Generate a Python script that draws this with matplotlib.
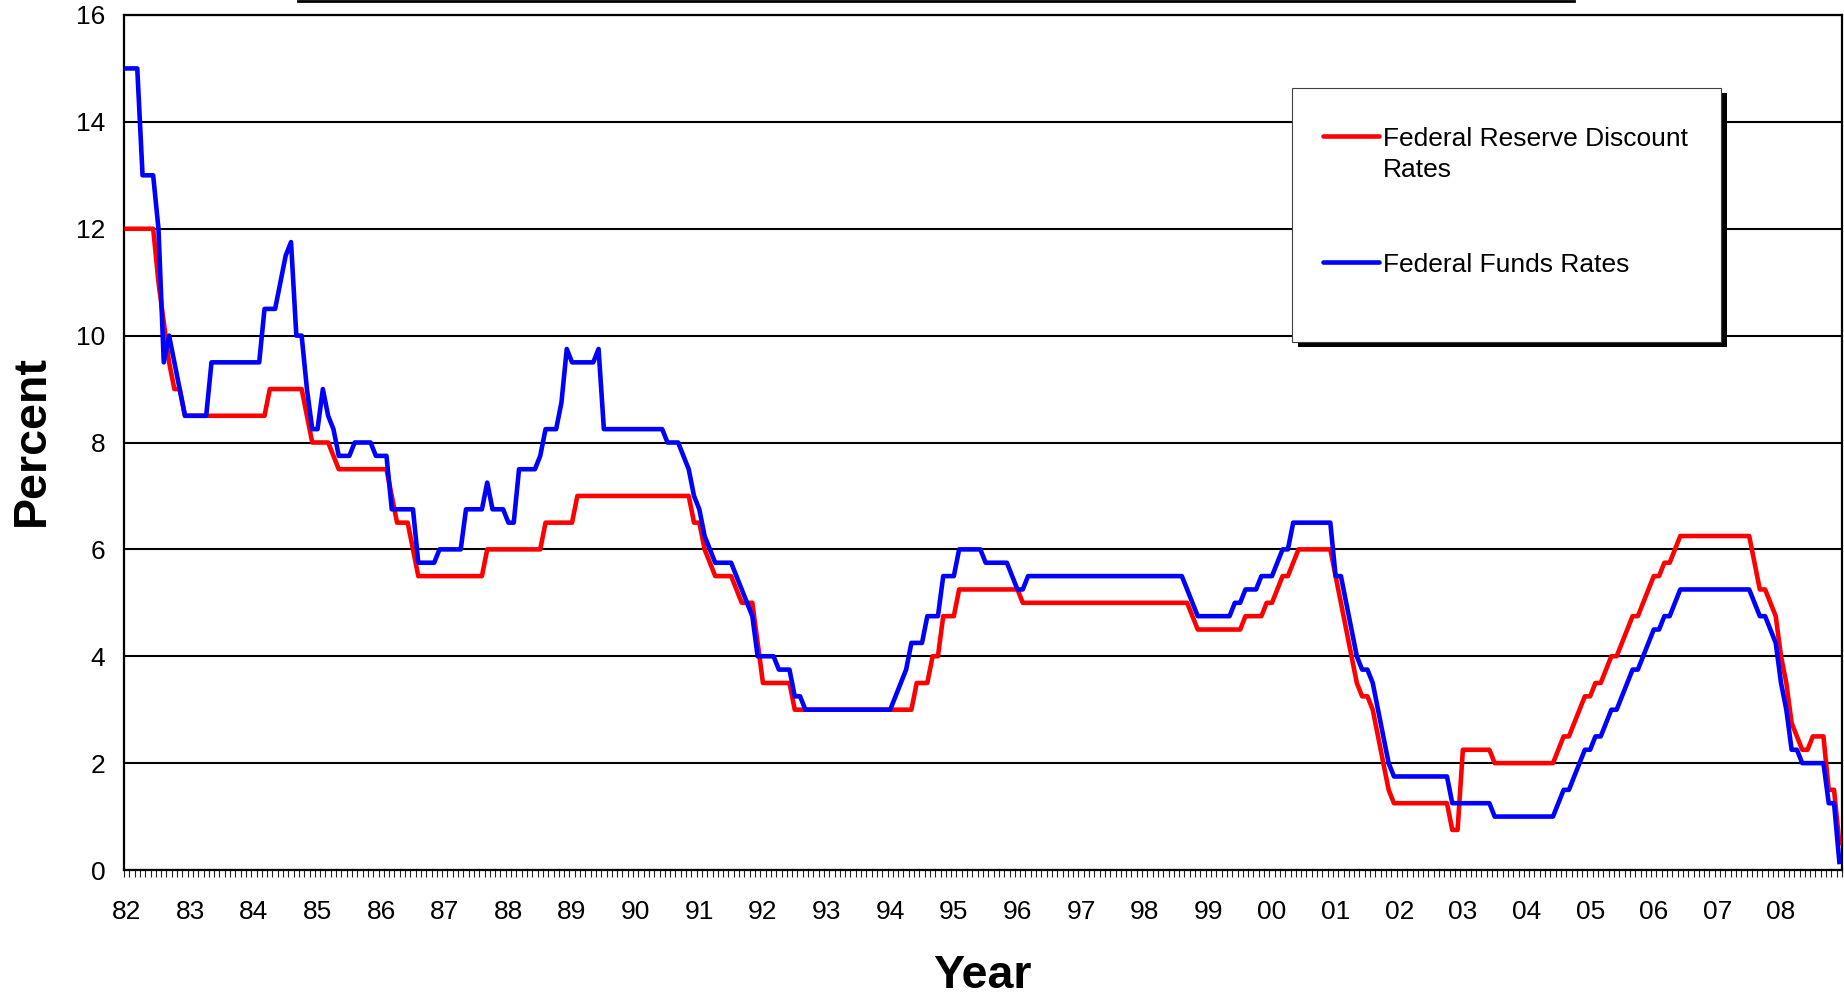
"""Federal Reserve discount rate vs. federal funds rate, monthly 1982-2008 -> out.png"""
import matplotlib
matplotlib.use("Agg")  # no display, write straight to file
import matplotlib.pyplot as plt
from matplotlib.lines import Line2D
from matplotlib.patches import Rectangle
import numpy as np

W, H = 1844, 999

YEAR_LABELS = ["82", "83", "84", "85", "86", "87", "88", "89", "90", "91",
               "92", "93", "94", "95", "96", "97", "98", "99", "00", "01",
               "02", "03", "04", "05", "06", "07", "08"]

# monthly values (Jan..Dec), one row per year 1982..2008
DISCOUNT = [
    12, 12, 12, 12, 12, 12, 11, 10.25, 9.5, 9, 9, 8.5,
    8.5, 8.5, 8.5, 8.5, 8.5, 8.5, 8.5, 8.5, 8.5, 8.5, 8.5, 8.5,
    8.5, 8.5, 8.5, 9, 9, 9, 9, 9, 9, 9, 8.5, 8,
    8, 8, 8, 7.75, 7.5, 7.5, 7.5, 7.5, 7.5, 7.5, 7.5, 7.5,
    7.5, 7.5, 7, 6.5, 6.5, 6.5, 6, 5.5, 5.5, 5.5, 5.5, 5.5,
    5.5, 5.5, 5.5, 5.5, 5.5, 5.5, 5.5, 5.5, 6, 6, 6, 6,
    6, 6, 6, 6, 6, 6, 6, 6.5, 6.5, 6.5, 6.5, 6.5,
    6.5, 7, 7, 7, 7, 7, 7, 7, 7, 7, 7, 7,
    7, 7, 7, 7, 7, 7, 7, 7, 7, 7, 7, 6.5,
    6.5, 6, 5.75, 5.5, 5.5, 5.5, 5.5, 5.25, 5, 5, 5, 4.25,
    3.5, 3.5, 3.5, 3.5, 3.5, 3.5, 3, 3, 3, 3, 3, 3,
    3, 3, 3, 3, 3, 3, 3, 3, 3, 3, 3, 3,
    3, 3, 3, 3, 3, 3.5, 3.5, 3.5, 4, 4, 4.75, 4.75,
    4.75, 5.25, 5.25, 5.25, 5.25, 5.25, 5.25, 5.25, 5.25, 5.25, 5.25, 5.25,
    5.25, 5, 5, 5, 5, 5, 5, 5, 5, 5, 5, 5,
    5, 5, 5, 5, 5, 5, 5, 5, 5, 5, 5, 5,
    5, 5, 5, 5, 5, 5, 5, 5, 5, 4.75, 4.5, 4.5,
    4.5, 4.5, 4.5, 4.5, 4.5, 4.5, 4.5, 4.75, 4.75, 4.75, 4.75, 5,
    5, 5.25, 5.5, 5.5, 5.75, 6, 6, 6, 6, 6, 6, 6,
    5.5, 5, 4.5, 4, 3.5, 3.25, 3.25, 3, 2.5, 2, 1.5, 1.25,
    1.25, 1.25, 1.25, 1.25, 1.25, 1.25, 1.25, 1.25, 1.25, 1.25, 0.75, 0.75,
    2.25, 2.25, 2.25, 2.25, 2.25, 2.25, 2, 2, 2, 2, 2, 2,
    2, 2, 2, 2, 2, 2, 2.25, 2.5, 2.5, 2.75, 3, 3.25,
    3.25, 3.5, 3.5, 3.75, 4, 4, 4.25, 4.5, 4.75, 4.75, 5, 5.25,
    5.5, 5.5, 5.75, 5.75, 6, 6.25, 6.25, 6.25, 6.25, 6.25, 6.25, 6.25,
    6.25, 6.25, 6.25, 6.25, 6.25, 6.25, 6.25, 5.75, 5.25, 5.25, 5, 4.75,
    4, 3.5, 2.75, 2.5, 2.25, 2.25, 2.5, 2.5, 2.5, 1.5, 1.5, 0.5,
]

FUNDS = [
    15, 15, 15, 13, 13, 13, 12, 9.5, 10, 9.5, 9, 8.5,
    8.5, 8.5, 8.5, 8.5, 9.5, 9.5, 9.5, 9.5, 9.5, 9.5, 9.5, 9.5,
    9.5, 9.5, 10.5, 10.5, 10.5, 11, 11.5, 11.75, 10, 10, 9, 8.25,
    8.25, 9, 8.5, 8.25, 7.75, 7.75, 7.75, 8, 8, 8, 8, 7.75,
    7.75, 7.75, 6.75, 6.75, 6.75, 6.75, 6.75, 5.75, 5.75, 5.75, 5.75, 6,
    6, 6, 6, 6, 6.75, 6.75, 6.75, 6.75, 7.25, 6.75, 6.75, 6.75,
    6.5, 6.5, 7.5, 7.5, 7.5, 7.5, 7.75, 8.25, 8.25, 8.25, 8.75, 9.75,
    9.5, 9.5, 9.5, 9.5, 9.5, 9.75, 8.25, 8.25, 8.25, 8.25, 8.25, 8.25,
    8.25, 8.25, 8.25, 8.25, 8.25, 8.25, 8, 8, 8, 7.75, 7.5, 7,
    6.75, 6.25, 6, 5.75, 5.75, 5.75, 5.75, 5.5, 5.25, 5, 4.75, 4,
    4, 4, 4, 3.75, 3.75, 3.75, 3.25, 3.25, 3, 3, 3, 3,
    3, 3, 3, 3, 3, 3, 3, 3, 3, 3, 3, 3,
    3, 3.25, 3.5, 3.75, 4.25, 4.25, 4.25, 4.75, 4.75, 4.75, 5.5, 5.5,
    5.5, 6, 6, 6, 6, 6, 5.75, 5.75, 5.75, 5.75, 5.75, 5.5,
    5.25, 5.25, 5.5, 5.5, 5.5, 5.5, 5.5, 5.5, 5.5, 5.5, 5.5, 5.5,
    5.5, 5.5, 5.5, 5.5, 5.5, 5.5, 5.5, 5.5, 5.5, 5.5, 5.5, 5.5,
    5.5, 5.5, 5.5, 5.5, 5.5, 5.5, 5.5, 5.5, 5.25, 5, 4.75, 4.75,
    4.75, 4.75, 4.75, 4.75, 4.75, 5, 5, 5.25, 5.25, 5.25, 5.5, 5.5,
    5.5, 5.75, 6, 6, 6.5, 6.5, 6.5, 6.5, 6.5, 6.5, 6.5, 6.5,
    5.5, 5.5, 5, 4.5, 4, 3.75, 3.75, 3.5, 3, 2.5, 2, 1.75,
    1.75, 1.75, 1.75, 1.75, 1.75, 1.75, 1.75, 1.75, 1.75, 1.75, 1.25, 1.25,
    1.25, 1.25, 1.25, 1.25, 1.25, 1.25, 1, 1, 1, 1, 1, 1,
    1, 1, 1, 1, 1, 1, 1.25, 1.5, 1.5, 1.75, 2, 2.25,
    2.25, 2.5, 2.5, 2.75, 3, 3, 3.25, 3.5, 3.75, 3.75, 4, 4.25,
    4.5, 4.5, 4.75, 4.75, 5, 5.25, 5.25, 5.25, 5.25, 5.25, 5.25, 5.25,
    5.25, 5.25, 5.25, 5.25, 5.25, 5.25, 5.25, 5, 4.75, 4.75, 4.5, 4.25,
    3.5, 3, 2.25, 2.25, 2, 2, 2, 2, 2, 1.25, 1.25, 0.15,
]

RED = "#FF0000"
BLUE = "#0000FF"
FS = 19  # tick / legend text size
LW = 3.3  # series line width

plt.rcParams["font.family"] = ["Liberation Sans", "DejaVu Sans"]

fig = plt.figure(figsize=(W / 100, H / 100), dpi=100)
ax = fig.add_axes([124 / W, 1 - 870 / H, (1842 - 124) / W, (870 - 15) / H])

# one category per month, points sit in the middle of each category
n = len(DISCOUNT)
months = np.arange(n) + 0.5
ax.plot(months, DISCOUNT, color=RED, lw=LW, zorder=3)
ax.plot(months, FUNDS, color=BLUE, lw=LW, zorder=4)

ax.set_xlim(0, n)
ax.set_ylim(0, 16)
ax.set_yticks(range(0, 17, 2))
ax.yaxis.grid(True, color="black", lw=1.5)
ax.set_axisbelow(True)
ax.tick_params(axis="y", length=0, pad=13.5, labelsize=FS)

ax.set_xticks(np.arange(len(YEAR_LABELS)) * 12 + 0.5)
ax.set_xticklabels(YEAR_LABELS)
ax.set_xticks(np.arange(n + 1), minor=True)
ax.tick_params(axis="x", which="major", length=0, pad=21.5, labelsize=FS)
ax.tick_params(axis="x", which="minor", length=5, width=0.8,
               direction="out", color="#222222")
for s in ax.spines.values():
    s.set_linewidth(1.6)

fig.text(982.5 / W, 11 / H, "Year", ha="center", va="baseline",
         fontsize=33.5, fontweight="bold")
fig.text(43.5 / W, 1 - 441 / H, "Percent", rotation=90, rotation_mode="anchor",
         ha="center", va="baseline", fontsize=33.5, fontweight="bold")

# leftover edge of a title box cut off at the top
fig.add_artist(Line2D([298 / W, 1574 / W], [1 - 1.3 / H] * 2,
                      color="black", lw=2.0))

# legend box with drop shadow, drawn by hand to keep the wrapped label
fig.add_artist(Rectangle((1298 / W, 1 - 347 / H), 429 / W, 254 / H,
                         transform=fig.transFigure, facecolor="black",
                         edgecolor="none", zorder=5))
fig.add_artist(Rectangle((1292 / W, 1 - 342 / H), 429 / W, 254 / H,
                         transform=fig.transFigure, facecolor="white",
                         edgecolor="#404040", lw=0.8, zorder=6))
for y, c in ((135.7, RED), (262, BLUE)):
    fig.add_artist(Line2D([1323 / W, 1379 / W], [1 - y / H] * 2, color=c,
                          lw=LW, solid_capstyle="round", zorder=7))
for y, t in ((145.7, "Federal Reserve Discount"), (177, "Rates"),
             (272, "Federal Funds Rates")):
    fig.text(1383 / W, 1 - y / H, t, ha="left", va="baseline",
             fontsize=FS, zorder=7)

fig.savefig("out.png", dpi=100)
